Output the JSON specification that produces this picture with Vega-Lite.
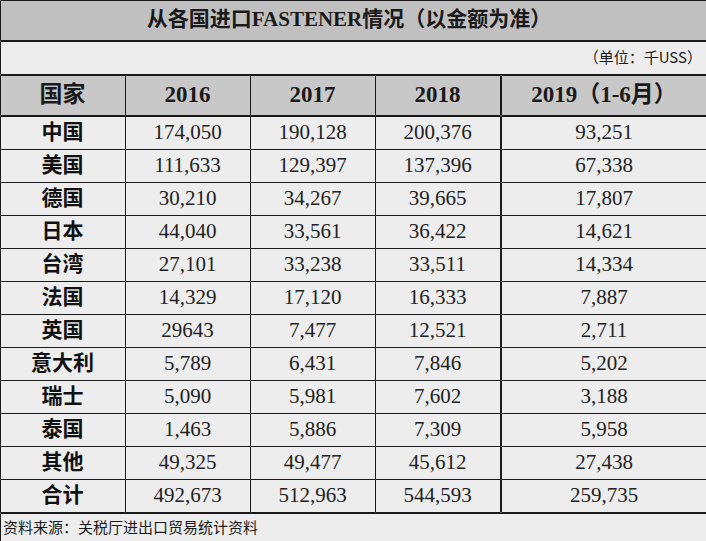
{
  "$schema": "https://vega.github.io/schema/vega-lite/v6.json",
  "padding": 0,
  "spacing": 0,
  "config": {"view": {"stroke": null}, "concat": {"spacing": 0}},
  "datasets": {
    "title": [{"t": "从各国进口FASTENER情况（以金额为准）"}],
    "unit": [{"t": "（单位：千USS）"}],
    "source": [{"t": "资料来源：关税厅进出口贸易统计资料"}],
    "header": [
      {"row": "h", "col": "国家", "label": "国家"},
      {"row": "h", "col": "y2016", "label": "2016"},
      {"row": "h", "col": "y2017", "label": "2017"},
      {"row": "h", "col": "y2018", "label": "2018"},
      {"row": "h", "col": "y2019", "label": "2019（1-6月）"}
    ],
    "table": [
      {"国家": "中国", "y2016": "174,050", "y2017": "190,128", "y2018": "200,376", "y2019": "93,251"},
      {"国家": "美国", "y2016": "111,633", "y2017": "129,397", "y2018": "137,396", "y2019": "67,338"},
      {"国家": "德国", "y2016": "30,210", "y2017": "34,267", "y2018": "39,665", "y2019": "17,807"},
      {"国家": "日本", "y2016": "44,040", "y2017": "33,561", "y2018": "36,422", "y2019": "14,621"},
      {"国家": "台湾", "y2016": "27,101", "y2017": "33,238", "y2018": "33,511", "y2019": "14,334"},
      {"国家": "法国", "y2016": "14,329", "y2017": "17,120", "y2018": "16,333", "y2019": "7,887"},
      {"国家": "英国", "y2016": "29643", "y2017": "7,477", "y2018": "12,521", "y2019": "2,711"},
      {"国家": "意大利", "y2016": "5,789", "y2017": "6,431", "y2018": "7,846", "y2019": "5,202"},
      {"国家": "瑞士", "y2016": "5,090", "y2017": "5,981", "y2018": "7,602", "y2019": "3,188"},
      {"国家": "泰国", "y2016": "1,463", "y2017": "5,886", "y2018": "7,309", "y2019": "5,958"},
      {"国家": "其他", "y2016": "49,325", "y2017": "49,477", "y2018": "45,612", "y2019": "27,438"},
      {"国家": "合计", "y2016": "492,673", "y2017": "512,963", "y2018": "544,593", "y2019": "259,735"}
    ]
  },
  "vconcat": [
    {
      "width": 706, "height": 40,
      "data": {"name": "title"},
      "layer": [
        {"mark": {"type": "rect", "fill": "#c0c0c0", "stroke": "#1a1a1a", "strokeWidth": 1, "xOffset": 0.5, "x2Offset": 0.5, "yOffset": 0.5, "y2Offset": 0.5},
         "encoding": {"x": {"datum": 0, "type": "quantitative", "scale": {"domain": [0, 1]}, "axis": null}, "x2": {"datum": 1},
                      "y": {"datum": 0, "type": "quantitative", "scale": {"domain": [0, 1]}, "axis": null}, "y2": {"datum": 1}}},
        {"mark": {"type": "text", "font": "Liberation Serif, Noto Sans CJK SC", "fontSize": 21, "fontWeight": "bold", "color": "#1a1a1a", "align": "center", "baseline": "middle", "dx": -4},
         "encoding": {"x": {"datum": 0.5, "type": "quantitative"}, "y": {"datum": 0.5, "type": "quantitative"}, "text": {"field": "t"}}}
      ]
    },
    {
      "width": 706, "height": 33,
      "data": {"name": "unit"},
      "layer": [
        {"mark": {"type": "rect", "fill": "#ededed", "stroke": "#1a1a1a", "strokeWidth": 1, "xOffset": 0.5, "x2Offset": 0.5, "yOffset": 0.5, "y2Offset": 0.5},
         "encoding": {"x": {"datum": 0, "type": "quantitative", "scale": {"domain": [0, 1]}, "axis": null}, "x2": {"datum": 1},
                      "y": {"datum": 0, "type": "quantitative", "scale": {"domain": [0, 1]}, "axis": null}, "y2": {"datum": 1}}},
        {"mark": {"type": "text", "font": "Noto Sans CJK SC", "fontSize": 15, "color": "#1a1a1a", "align": "right", "baseline": "middle", "dx": -4},
         "encoding": {"x": {"datum": 1, "type": "quantitative"}, "y": {"datum": 0.5, "type": "quantitative"}, "text": {"field": "t"}}}
      ]
    },
    {
      "hconcat": [
        {
          "width": 500, "height": 40,
          "data": {"name": "header"},
          "transform": [{"filter": "datum.col !== 'y2019'"}],
          "encoding": {
            "x": {"field": "col", "type": "nominal", "scale": {"domain": ["国家", "y2016", "y2017", "y2018"], "paddingInner": 0, "paddingOuter": 0}, "axis": null},
            "y": {"field": "row", "type": "nominal", "scale": {"paddingInner": 0, "paddingOuter": 0}, "axis": null}
          },
          "layer": [
            {"mark": {"type": "rect", "fill": "#c8c8c8", "stroke": "#1a1a1a", "strokeWidth": 1, "xOffset": 0.5, "x2Offset": 0.5, "yOffset": 0.5, "y2Offset": 0.5}},
            {"mark": {"type": "text", "font": "Liberation Serif, Noto Sans CJK SC", "fontSize": 23, "fontWeight": "bold", "color": "#1a1a1a", "baseline": "middle"},
             "encoding": {"text": {"field": "label"}}}
          ]
        },
        {
          "width": 206, "height": 40,
          "data": {"name": "header"},
          "transform": [{"filter": "datum.col === 'y2019'"}],
          "encoding": {
            "x": {"field": "col", "type": "nominal", "scale": {"domain": ["y2019"], "paddingInner": 0, "paddingOuter": 0}, "axis": null},
            "y": {"field": "row", "type": "nominal", "scale": {"paddingInner": 0, "paddingOuter": 0}, "axis": null}
          },
          "layer": [
            {"mark": {"type": "rect", "fill": "#c8c8c8", "stroke": "#1a1a1a", "strokeWidth": 1, "xOffset": 0.5, "x2Offset": 0.5, "yOffset": 0.5, "y2Offset": 0.5}},
            {"mark": {"type": "text", "font": "Liberation Serif, Noto Sans CJK SC", "fontSize": 23, "fontWeight": "bold", "color": "#1a1a1a", "baseline": "middle"},
             "encoding": {"text": {"field": "label"}}}
          ]
        }
      ]
    },
    {
      "hconcat": [
        {
          "width": 500, "height": 396,
          "data": {"name": "table"},
          "transform": [{"fold": ["国家", "y2016", "y2017", "y2018"], "as": ["col", "val"]}],
          "encoding": {
            "x": {"field": "col", "type": "nominal", "scale": {"domain": ["国家", "y2016", "y2017", "y2018"], "paddingInner": 0, "paddingOuter": 0}, "axis": null},
            "y": {"field": "国家", "type": "nominal", "sort": null, "scale": {"paddingInner": 0, "paddingOuter": 0}, "axis": null}
          },
          "layer": [
            {"mark": {"type": "rect", "fill": "#ededed", "stroke": "#1a1a1a", "strokeWidth": 1, "xOffset": 0.5, "x2Offset": 0.5, "yOffset": 0.5, "y2Offset": 0.5}},
            {"transform": [{"filter": "datum.col === '国家'"}],
             "mark": {"type": "text", "font": "Noto Sans CJK SC", "fontSize": 21, "fontWeight": "bold", "color": "#111111", "baseline": "middle"},
             "encoding": {"text": {"field": "val"}}},
            {"transform": [{"filter": "datum.col !== '国家'"}],
             "mark": {"type": "text", "font": "Liberation Serif", "fontSize": 21, "color": "#222222", "baseline": "middle"},
             "encoding": {"text": {"field": "val"}}}
          ]
        },
        {
          "width": 206, "height": 396,
          "data": {"name": "table"},
          "transform": [{"fold": ["y2019"], "as": ["col", "val"]}],
          "encoding": {
            "x": {"field": "col", "type": "nominal", "scale": {"domain": ["y2019"], "paddingInner": 0, "paddingOuter": 0}, "axis": null},
            "y": {"field": "国家", "type": "nominal", "sort": null, "scale": {"paddingInner": 0, "paddingOuter": 0}, "axis": null}
          },
          "layer": [
            {"mark": {"type": "rect", "fill": "#ededed", "stroke": "#1a1a1a", "strokeWidth": 1, "xOffset": 0.5, "x2Offset": 0.5, "yOffset": 0.5, "y2Offset": 0.5}},
            {"mark": {"type": "text", "font": "Liberation Serif", "fontSize": 21, "color": "#222222", "baseline": "middle"},
             "encoding": {"text": {"field": "val"}}}
          ]
        }
      ]
    },
    {
      "width": 706, "height": 30,
      "data": {"name": "source"},
      "layer": [
        {"mark": {"type": "rect", "fill": "#ededed", "stroke": "#1a1a1a", "strokeWidth": 1, "xOffset": 0.5, "x2Offset": 0.5, "yOffset": 0.5, "y2Offset": 0.5},
         "encoding": {"x": {"datum": 0, "type": "quantitative", "scale": {"domain": [0, 1]}, "axis": null}, "x2": {"datum": 1},
                      "y": {"datum": 0, "type": "quantitative", "scale": {"domain": [0, 1]}, "axis": null}, "y2": {"datum": 1}}},
        {"mark": {"type": "text", "font": "Noto Sans CJK SC", "fontSize": 15, "color": "#1a1a1a", "align": "left", "baseline": "middle", "dx": 3},
         "encoding": {"x": {"datum": 0, "type": "quantitative"}, "y": {"datum": 0.5, "type": "quantitative"}, "text": {"field": "t"}}}
      ]
    }
  ]
}
